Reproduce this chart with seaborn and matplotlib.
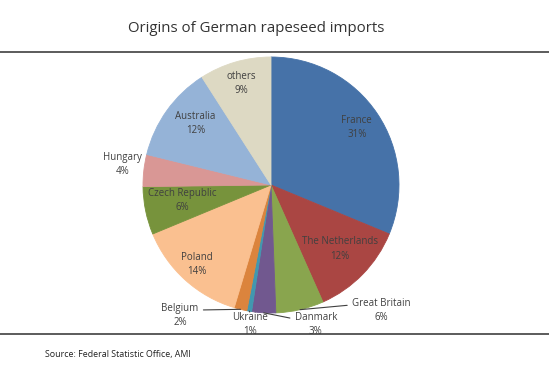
import matplotlib
matplotlib.use("Agg")
import matplotlib.pyplot as plt
import numpy as np
import seaborn as sns

# data
countries = ["France", "The Netherlands", "Great Britain", "Danmark", "Ukraine",
             "Belgium", "Poland", "Czech Republic", "Hungary", "Australia", "others"]
shares = [31, 12, 6, 3, 0.6, 1.6, 14, 6, 4, 12, 9]
pct_labels = ["31%", "12%", "6%", "3%", "1%", "2%", "14%", "6%", "4%", "12%", "9%"]

colors = ["#4672A8", "#AA4643", "#89A54E", "#71588F", "#4198AF", "#DB843D",
          "#FAC090", "#77933C", "#D99795", "#95B3D7", "#DDD9C3"]

# label placement (in pie radius units) - styling only
label_pos = [(0.67, 0.45), (0.54, -0.50), (0.86, -0.98), (0.35, -1.09), (-0.16, -1.09),
             (-0.71, -1.02), (-0.58, -0.62), (-0.69, -0.12), (-1.16, 0.16),
             (-0.59, 0.48), (-0.23, 0.79)]
leader = {"Great Britain": (0, 0.72), "Danmark": (0, 0.72), "Ukraine": (0.5, 0.95),
          "Belgium": (1, 0.72)}

sns.set_theme(style="white")
plt.rcParams["font.family"] = ["Open Sans", "DejaVu Sans"]
txt = "#404040"

fig = plt.figure(figsize=(5.49, 3.75), dpi=100)
W, H = 549, 375
cx, cy, R = 271, 185, 128
ax = fig.add_axes([(cx - R) / W, (H - cy - R) / H, 2 * R / W, 2 * R / H])

wedges, _ = ax.pie(shares, colors=sns.color_palette(colors), startangle=90,
                   counterclock=False, radius=1,
                   wedgeprops=dict(linewidth=0.6))
for w in wedges:
    w.set_edgecolor(w.get_facecolor())

ax.set_xlim(-1, 1)
ax.set_ylim(-1, 1)
ax.set_aspect("equal")
ax.axis("off")

fs = 7
for w, name, pct, (lx, ly) in zip(wedges, countries, pct_labels, label_pos):
    s = name + "\n" + pct
    if name in leader:
        mid = np.deg2rad((w.theta1 + w.theta2) / 2)
        ax.annotate(s, xy=(np.cos(mid), np.sin(mid)), xytext=(lx, ly),
                    ha="center", va="center", fontsize=fs, color=txt,
                    linespacing=1.4, annotation_clip=False,
                    arrowprops=dict(arrowstyle="-", color=txt, lw=0.8,
                                    shrinkA=1, shrinkB=0, relpos=leader[name]))
    else:
        ax.text(lx, ly, s, ha="center", va="center", fontsize=fs, color=txt,
                linespacing=1.4)

fig.text(256 / W, 1 - 29 / H, "Origins of German rapeseed imports", ha="center",
         va="center", fontsize=10.8, color="#333333")
fig.text(45 / W, 1 - 355 / H, "Source: Federal Statistic Office, AMI", ha="left",
         va="center", fontsize=6.4, color="#222222")
for yy in (52, 334):
    fig.add_artist(plt.Line2D([0, 1], [1 - yy / H, 1 - yy / H], color="#404040", lw=1.2,
                              transform=fig.transFigure))

fig.savefig("out.png", dpi=100)
